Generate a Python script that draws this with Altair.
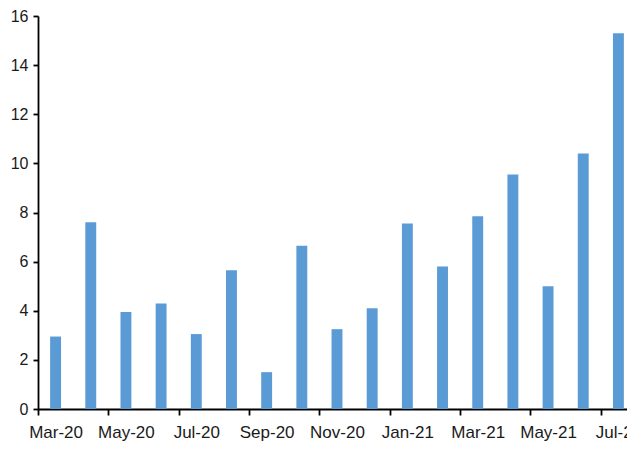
import altair as alt
import pandas as pd

months = ["Mar-20", "Apr-20", "May-20", "Jun-20", "Jul-20", "Aug-20", "Sep-20",
          "Oct-20", "Nov-20", "Dec-20", "Jan-21", "Feb-21", "Mar-21", "Apr-21",
          "May-21", "Jun-21", "Jul-21"]
values = [2.95, 7.6, 3.95, 4.3, 3.05, 5.65, 1.5, 6.65, 3.25, 4.1, 7.55, 5.8,
          7.85, 9.55, 5.0, 10.4, 15.3]
label_months = months[::2]
y_ticks = [0, 2, 4, 6, 8, 10, 12, 14, 16]

df = pd.DataFrame({"month": months, "value": values})

STEP = 598 / 17

chart = alt.Chart(df).mark_bar(color="#5B9BD5").encode(
    x=alt.X("month:N", sort=months, title=None,
            scale=alt.Scale(range=[0, 598], paddingInner=0.69, paddingOuter=0.345),
            axis=alt.Axis(values=label_months, labelAngle=0,
                          tickOffset=-STEP / 2, labelOffset=STEP / 2,
                          tickSize=6, labelPadding=9, domainColor="black",
                          tickColor="black", domainWidth=1.8, tickWidth=1.8,
                          labelFont="Liberation Sans", labelFontSize=17,
                          labelColor="#1a1a1a", grid=False, labelOverlap=False)),
    y=alt.Y("value:Q", title=None,
            scale=alt.Scale(domain=[0, 16], nice=False, zero=True),
            axis=alt.Axis(values=y_ticks, tickSize=5, labelPadding=5,
                          domainColor="black", tickColor="black",
                          domainWidth=1.8, tickWidth=1.8,
                          labelFont="Liberation Sans", labelFontSize=16,
                          labelColor="#1a1a1a", grid=False)),
).properties(
    width=589, height=393,
    background="white",
    autosize=alt.AutoSizeParams(type="none"),
    padding={"left": 30, "top": 8, "right": 0, "bottom": 33},
).configure_view(stroke=None)

chart.save("out.html", embed_options={"renderer": "svg", "actions": False})
